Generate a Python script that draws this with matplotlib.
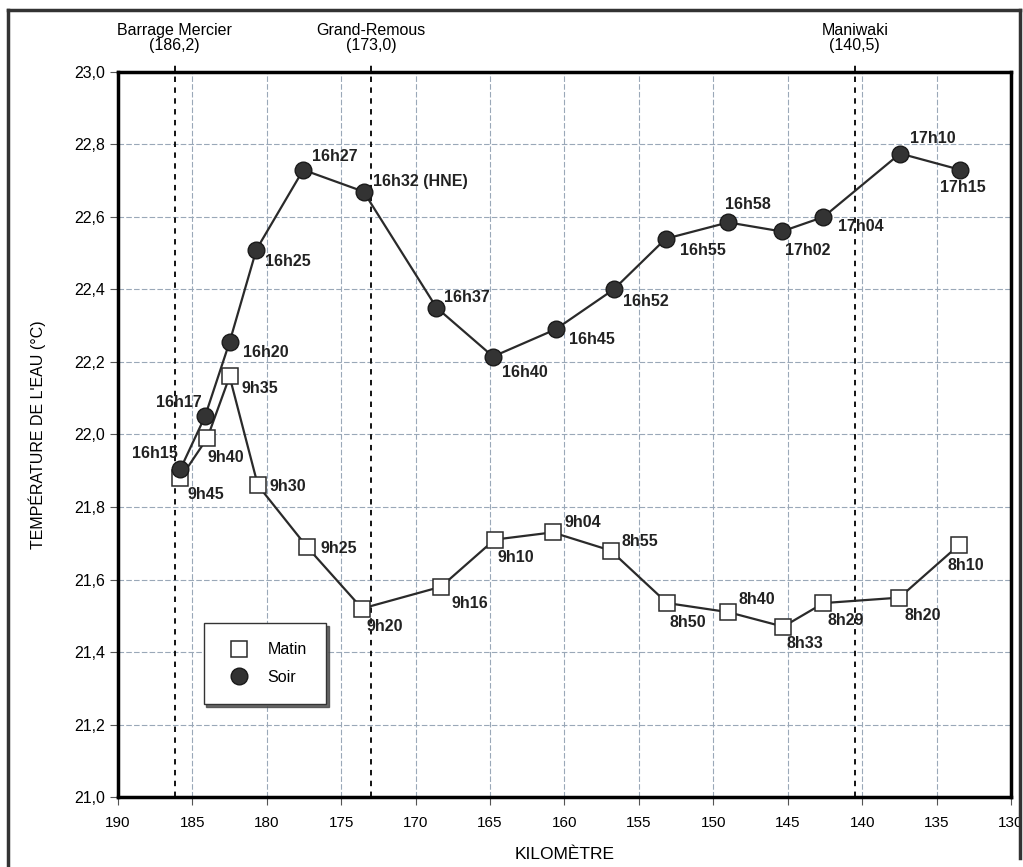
import matplotlib.pyplot as plt
from matplotlib.lines import Line2D

plt.rcParams['font.family'] = ['Liberation Sans', 'DejaVu Sans']

# Matin (morning) readings
matin_km = [185.8, 184.0, 182.5, 180.6, 177.3, 173.6, 168.3, 164.7, 160.8, 156.9,
            153.1, 149.0, 145.3, 142.6, 137.5, 133.5]
matin_temp = [21.88, 21.99, 22.16, 21.86, 21.69, 21.52, 21.58, 21.71, 21.73, 21.68,
              21.535, 21.51, 21.47, 21.535, 21.55, 21.695]
matin_time = ['9h45', '9h40', '9h35', '9h30', '9h25', '9h20', '9h16', '9h10', '9h04', '8h55',
              '8h50', '8h40', '8h33', '8h29', '8h20', '8h10']

# Soir (evening) readings
soir_km = [185.8, 184.15, 182.5, 180.7, 177.55, 173.5, 168.6, 164.8, 160.6, 156.7,
           153.2, 149.0, 145.4, 142.6, 137.45, 133.4]
soir_temp = [21.905, 22.05, 22.255, 22.51, 22.73, 22.67, 22.35, 22.215, 22.29, 22.4,
             22.54, 22.585, 22.56, 22.6, 22.775, 22.73]
soir_time = ['16h15', '16h17', '16h20', '16h25', '16h27', '16h32 (HNE)', '16h37', '16h40',
             '16h45', '16h52', '16h55', '16h58', '17h02', '17h04', '17h10', '17h15']

stations = ['Barrage Mercier', 'Grand-Remous', 'Maniwaki']
station_km = [186.2, 173.0, 140.5]

# label offsets in pixels (dx, dy, ha)
matin_off = [(7, -16, 'left'), (0, -19, 'left'), (12, -12, 'left'), (12, -1, 'left'),
             (14, -2, 'left'), (4, -18, 'left'), (11, -17, 'left'), (3, -18, 'left'),
             (12, 10, 'left'), (11, 9, 'left'), (2, -19, 'left'), (10, 13, 'left'),
             (3, -17, 'left'), (4, -17, 'left'), (5, -18, 'left'), (7, -20, 'center')]
soir_off = [(-3, 15, 'right'), (-3, 14, 'right'), (13, -10, 'left'), (9, -12, 'left'),
            (9, 13, 'left'), (9, 10, 'left'), (8, 10, 'left'), (9, -16, 'left'),
            (13, -10, 'left'), (9, -12, 'left'), (14, -12, 'left'), (-3, 18, 'left'),
            (3, -19, 'left'), (15, -10, 'left'), (10, 15, 'left'), (2, -18, 'center')]

fig = plt.figure(figsize=(10.23, 8.67), dpi=100)
ax = fig.add_axes([0.1153, 0.0807, 0.873, 0.8363])

ax.set_xlim(190, 130)
ax.set_ylim(21.0, 23.0)
ax.set_xticks(range(190, 129, -5))
ax.set_yticks([21.0 + 0.2 * i for i in range(11)])
ax.set_yticklabels([f'{21.0 + 0.2 * i:.1f}'.replace('.', ',') for i in range(11)])
ax.grid(True, color='#9aa8b8', lw=0.8, ls=(0, (5, 2)))
ax.set_axisbelow(True)
ax.tick_params(direction='out', length=6, width=0.8, labelsize=11.5, color='#555555')
ax.tick_params(axis='x', labelsize=11, pad=8)
for s in ax.spines.values():
    s.set_linewidth(2.5)

for km, name in zip(station_km, stations):
    ax.plot([km, km], [21.0, 23.03], color='black', lw=1.3, ls=(0, (3, 3)), clip_on=False, zorder=2)
    ax.annotate(f'{name}\n({km:.1f})'.replace('.', ','), xy=(km, 23.0), xytext=(0, 19),
                textcoords='offset pixels', ha='center', va='bottom', fontsize=11.5,
                linespacing=1.0)

ax.plot(matin_km, matin_temp, color='#2a2a2a', lw=1.6, marker='s', ms=12,
        mfc='white', mec='#2a2a2a', mew=1.1, zorder=3, label='Matin')
ax.plot(soir_km, soir_temp, color='#2a2a2a', lw=1.6, marker='o', ms=12,
        mfc='#333333', mec='#1a1a1a', mew=1.0, zorder=4, label='Soir')

for km, t, lab, (dx, dy, ha) in zip(matin_km, matin_temp, matin_time, matin_off):
    ax.annotate(lab, xy=(km, t), xytext=(dx, dy), textcoords='offset pixels',
                ha=ha, va='center', fontsize=11.5, fontweight='bold', color='#222222', zorder=5)
for km, t, lab, (dx, dy, ha) in zip(soir_km, soir_temp, soir_time, soir_off):
    ax.annotate(lab, xy=(km, t), xytext=(dx, dy), textcoords='offset pixels',
                ha=ha, va='center', fontsize=11.5, fontweight='bold', color='#222222', zorder=5)

handles = [Line2D([], [], ls='none', marker='s', ms=12, mfc='white', mec='#2a2a2a', mew=1.1),
           Line2D([], [], ls='none', marker='o', ms=12, mfc='#333333', mec='#1a1a1a')]
leg = ax.legend(handles, ['Matin', 'Soir'], loc='lower left', bbox_to_anchor=(0.096, 0.128),
                fontsize=11.5, frameon=True, fancybox=False, shadow={'color': '#444444', 'alpha': 0.8},
                edgecolor='#333333', borderpad=1.2, labelspacing=0.8, handletextpad=0.8,
                borderaxespad=0)
leg.get_frame().set_linewidth(1.0)
leg.get_frame().set_alpha(1)

ax.set_ylabel("TEMPÉRATURE DE L'EAU (°C)", fontsize=11.5, labelpad=20)
ax.set_xlabel('KILOMÈTRE', fontsize=12.5, labelpad=12)

# outer frame of the figure
fig.add_artist(Line2D([0.008, 0.008], [0, 0.988], color='#333333', lw=2.5))
fig.add_artist(Line2D([0.008, 0.997], [0.988, 0.988], color='#333333', lw=2.5))
fig.add_artist(Line2D([0.997, 0.997], [0.988, 0.01], color='#333333', lw=2.5))

fig.savefig('out.png', dpi=100)
